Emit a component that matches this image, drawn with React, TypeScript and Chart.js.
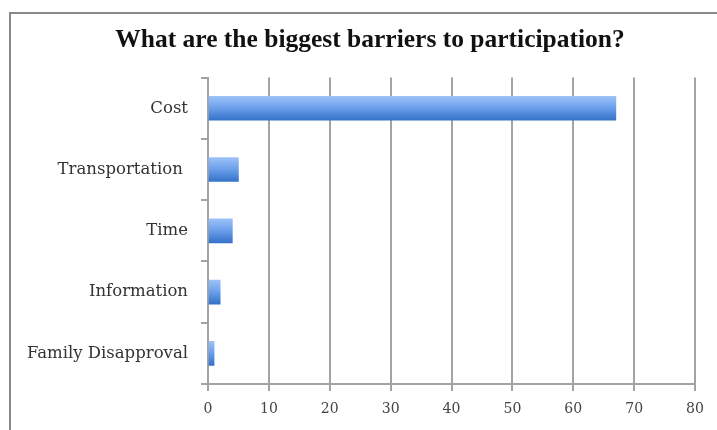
import React, { useEffect, useRef } from "react";
import { Chart, registerables } from "chart.js";

Chart.register(...registerables);

const TITLE = "What are the biggest barriers to participation?";
const categories = ["Cost", "Transportation ", "Time", "Information", "Family Disapproval"];
const values = [67, 5, 4, 2, 1];
const xTicks = [0, 10, 20, 30, 40, 50, 60, 70, 80];

export default function App() {
  const ref = useRef<HTMLCanvasElement | null>(null);

  useEffect(() => {
    if (!ref.current) return;
    const chart = new Chart(ref.current, {
      type: "bar",
      data: {
        labels: categories,
        datasets: [
          {
            data: values,
            backgroundColor: (ctx: any) => {
              const c = ctx.chart;
              const ys = c.scales && c.scales.y;
              if (!ys || typeof ctx.dataIndex !== "number") return "#5a92e0";
              const yc = ys.getPixelForValue(ctx.dataIndex);
              if (!Number.isFinite(yc)) return "#5a92e0";
              const g = c.ctx.createLinearGradient(0, yc - 12, 0, yc + 12);
              g.addColorStop(0, "#9cc2f7");
              g.addColorStop(0.45, "#6fa2ec");
              g.addColorStop(1, "#3572c9");
              return g;
            },
            barThickness: 24,
            borderWidth: 0,
          },
        ],
      },
      options: {
        indexAxis: "y",
        animation: false,
        responsive: false,
        maintainAspectRatio: false,
        layout: { padding: { left: 34, right: 22, top: 0, bottom: 0 } },
        plugins: {
          legend: { display: false },
          tooltip: { enabled: false },
          title: {
            display: true,
            text: TITLE,
            color: "#111",
            font: { family: "'Liberation Serif', serif", size: 25.5, weight: "bold", lineHeight: 1.2 },
            padding: { top: 11, bottom: 22 },
          },
        },
        scales: {
          x: {
            min: 0,
            max: 80,
            afterBuildTicks: (s: any) => {
              s.ticks = xTicks.map((v) => ({ value: v }));
            },
            afterFit: (s: any) => {
              s.height = 46;
            },
            grid: {
              color: "#a3a3a3",
              lineWidth: 2,
              tickLength: 7,
              drawTicks: true,
            },
            border: { display: true, color: "#a3a3a3", width: 2 },
            ticks: {
              color: "#444",
              padding: 10,
              font: { family: "'DejaVu Serif', serif", size: 14 },
              maxRotation: 0,
            },
          },
          y: {
            afterFit: (s: any) => {
              s.width = 163;
            },
            afterUpdate: (s: any) => {
              s._computeLabelArea = () => undefined;
            },
            grid: {
              display: true,
              drawOnChartArea: false,
              offset: true,
              color: "#a3a3a3",
              lineWidth: 2,
              tickLength: 7,
            },
            border: { display: true, color: "#a3a3a3", width: 2 },
            ticks: {
              color: "#333",
              padding: 13,
              font: { family: "'DejaVu Serif', serif", size: 16.5 },
            },
          },
        },
      },
    });
    return () => chart.destroy();
  }, []);

  return (
    <div style={{ position: "absolute", left: 0, top: 0, width: 717, height: 430, overflow: "hidden", background: "#fff" }}>
      <div
        style={{
          position: "absolute",
          left: 9,
          top: 12,
          width: 800,
          height: 500,
          borderLeft: "2px solid #8a8a8a",
          borderTop: "2px solid #8a8a8a",
        }}
      />
      <canvas ref={ref} width={706} height={416} style={{ position: "absolute", left: 11, top: 14 }} />
    </div>
  );
}
